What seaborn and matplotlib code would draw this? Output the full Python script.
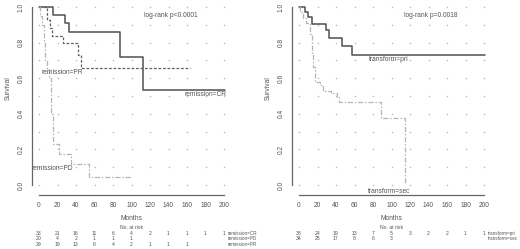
import numpy as np
import pandas as pd
import matplotlib
matplotlib.use("Agg")
import matplotlib.pyplot as plt
import matplotlib.transforms as mtransforms
import seaborn as sns

# ---------------- data ----------------
months_ticks = [0, 20, 40, 60, 80, 100, 120, 140, 160, 180, 200]
surv_ticks = [0.0, 0.2, 0.4, 0.6, 0.8, 1.0]

cr_t = [0, 15, 28, 32, 88, 112, 201]
cr_s = [1.0, 0.957, 0.912, 0.858, 0.717, 0.534, 0.534]

pr_t = [0, 9, 12, 14, 26, 42, 45, 163]
pr_s = [1.0, 0.93, 0.88, 0.837, 0.796, 0.73, 0.656, 0.656]

pd_t = [0, 1, 3, 5, 7, 9, 11, 13, 15, 22, 35, 54, 100]
pd_s = [1.0, 0.95, 0.90, 0.80, 0.70, 0.65, 0.60, 0.40, 0.23, 0.172, 0.116, 0.047, 0.047]

pri_t = [0, 6.5, 9.5, 14, 29, 32, 46, 57, 201]
pri_s = [1.0, 0.974, 0.946, 0.905, 0.871, 0.828, 0.783, 0.73, 0.73]

sec_t = [0, 1, 4, 8, 12, 14, 15.5, 17.5, 22.5, 26, 35, 41, 43.5, 89, 115]
sec_s = [1.0, 0.97, 0.94, 0.91, 0.85, 0.74, 0.665, 0.58, 0.56, 0.53, 0.515, 0.496, 0.468, 0.375, 0.0]

risk_left_labels = ["remission=CR", "remission=PD", "remission=PR"]
risk_left = [
    [33, 21, 16, 11, 6, 4, 2, 1, 1, 1, 1],
    [20, 4, 2, 1, 1, 1],
    [29, 19, 13, 6, 4, 2, 1, 1, 1],
]
risk_right_labels = ["transform=pri", "transform=sec"]
risk_right = [
    [38, 24, 19, 13, 7, 5, 3, 2, 2, 1, 1],
    [34, 25, 17, 8, 6, 3],
]

pval_left = "log-rank p<0.0001"
pval_right = "log-rank p=0.0018"

# ---------------- style ----------------
sns.set_theme(style="white")
plt.rcParams["font.family"] = ["Liberation Sans", "DejaVu Sans"]

FS = 4.8
FS_T = 3.7
TXT = "#555555"
DARK = "#505050"
MID = "#606060"
LIGHT = "#b4b4b4"

fig = plt.figure(figsize=(5.2, 2.49), dpi=100)
W, H = 520.0, 249.0

ax_pos = [
    [31.6 / W, 54.2 / H, 199.8 / W, 194.8 / H],
    [291.6 / W, 54.2 / H, 199.8 / W, 194.8 / H],
]
axL = fig.add_axes(ax_pos[0])
axR = fig.add_axes(ax_pos[1])


def frame(ax):
    ax.set_xlim(-8, 208)
    ax.set_ylim(-0.055, 1.04)
    for s in ["top", "right"]:
        ax.spines[s].set_visible(False)
    for s in ["left", "bottom"]:
        ax.spines[s].set_color("#666666")
        ax.spines[s].set_linewidth(0.9)
    ax.spines["left"].set_bounds(0, 1)
    ax.spines["bottom"].set_bounds(0, 200)
    ax.set_xticks(months_ticks)
    ax.set_xticklabels([str(m) for m in months_ticks], fontsize=FS, color=TXT)
    ax.set_yticks(surv_ticks)
    ax.set_yticklabels([f"{v:.1f}" for v in surv_ticks], fontsize=FS, color=TXT,
                       rotation=90, va="center")
    ax.tick_params(axis="both", length=3, width=0.6, color="#666666", pad=2.2)
    ax.set_xlabel("")
    ax.set_ylabel("")
    ax.patch.set_alpha(0)


def grid_dots(ax):
    gx, gy = np.meshgrid(months_ticks, np.round(np.arange(0, 1.01, 0.1), 2))
    ax.scatter(gx.ravel(), gy.ravel(), s=1.3, color="#bdbdbd", linewidths=0, zorder=1)


def curve(ax, t, s, color, lw, dashes=None):
    df = pd.DataFrame({"t": t, "s": s})
    sns.lineplot(data=df, x="t", y="s", ax=ax, color=color, linewidth=lw,
                 drawstyle="steps-post", estimator=None, sort=False, zorder=3)
    ln = ax.get_lines()[-1]
    if dashes is not None:
        ln.set_dashes(dashes)


grid_dots(axL)
grid_dots(axR)

curve(axL, cr_t, cr_s, DARK, 1.1)
curve(axL, pr_t, pr_s, MID, 0.9, (2.2, 1.4))
curve(axL, pd_t, pd_s, LIGHT, 0.9, (4, 1.5, 1.2, 1.5))

curve(axR, pri_t, pri_s, DARK, 1.1)
curve(axR, sec_t, sec_s, LIGHT, 0.9, (4, 1.5, 1.2, 1.5))

frame(axL)
frame(axR)

# annotations
axL.text(113, 0.955, pval_left, fontsize=FS, color=TXT, ha="left", va="center")
axR.text(114, 0.955, pval_right, fontsize=FS, color=TXT, ha="left", va="center")
axL.text(25, 0.635, "remission=PR", fontsize=FS, color=TXT, ha="center", va="center")
axL.text(180, 0.51, "remission=CR", fontsize=FS, color=TXT, ha="center", va="center")
axL.text(14, 0.092, "remission=PD", fontsize=FS, color=TXT, ha="center", va="center")
axR.text(97, 0.706, "transform=pri", fontsize=FS, color=TXT, ha="center", va="center")
axR.text(97, -0.035, "transform=sec", fontsize=FS, color=TXT, ha="center", va="center")

# y labels
for xpx in (8, 268):
    fig.text(xpx / W, 1 - 88 / H, "Survival", rotation=90, fontsize=FS, color=TXT,
             ha="center", va="center")

# risk tables
row_y = [1 - 233.3 / H, 1 - 238.7 / H, 1 - 244.0 / H]
for ax, labels, table in ((axL, risk_left_labels, risk_left),
                          (axR, risk_right_labels, risk_right)):
    tr = mtransforms.blended_transform_factory(ax.transData, fig.transFigure)
    ax.text(100, 1 - 219 / H, "Months", transform=tr, fontsize=FS, color=TXT,
            ha="center", va="center", clip_on=False)
    ax.text(100, 1 - 227.7 / H, "No. at risk", transform=tr, fontsize=FS_T,
            color=TXT, ha="center", va="center", clip_on=False)
    for i, (lab, row) in enumerate(zip(labels, table)):
        for m, n in zip(months_ticks, row):
            ax.text(m, row_y[i], str(n), transform=tr, fontsize=FS_T, color=TXT,
                    ha="center", va="center", clip_on=False)
        ax.text(204, row_y[i], lab, transform=tr, fontsize=3.3, color=TXT,
                ha="left", va="center", clip_on=False)

fig.savefig("out.png", dpi=100)
